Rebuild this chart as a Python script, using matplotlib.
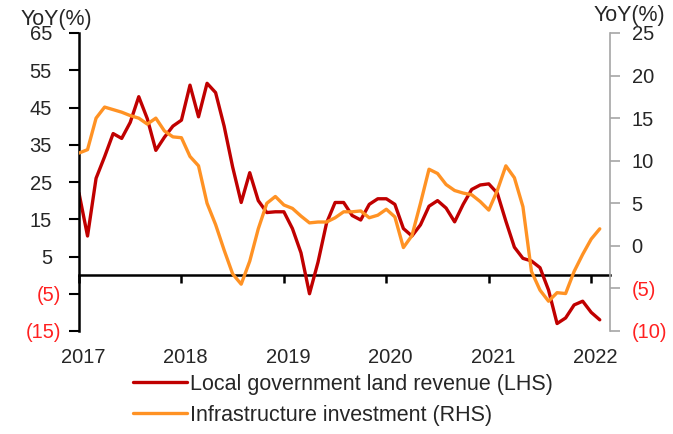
import numpy as np
import matplotlib
matplotlib.use('Agg')
import matplotlib.pyplot as plt
from matplotlib.transforms import ScaledTranslation

plt.rcParams['font.family'] = ['Liberation Sans', 'DejaVu Sans']

# month index from Jan 2017
months = np.arange(62)

land_revenue = [22, 10.5, 26, 31.8, 38, 36.7, 41, 47.9, 42, 33.5,
                37, 40, 41.6, 51, 42.5, 51.5, 49, 40, 29, 19.5,
                27.5, 20, 16.8, 17, 17, 12.5, 6, -5, 3.5, 14,
                19.5, 19.5, 16, 14.8, 19, 20.5, 20.5, 19, 12.5, 10.5,
                13.5, 18.5, 20, 18, 14.3, 19, 23, 24.2, 24.5, 22,
                14.5, 7.5, 4.5, 3.8, 2, -4, -13, -11.5, -8, -7,
                -10, -12]

infra_invest = [10.9, 11.3, 15, 16.3, 16.0, 15.7, 15.3, 15.0, 14.3, 15.0,
                13.5, 12.8, 12.7, 10.5, 9.4, 5, 2.5, -0.5, -3.3, -4.5,
                -1.8, 2, 5, 5.8, 4.8, 4.4, 3.5, 2.7, 2.8, 2.8,
                3.3, 4.0, 4.0, 4.1, 3.3, 3.6, 4.3, 3.4, -0.2, 1.2,
                5, 9.0, 8.5, 7.2, 6.5, 6.2, 6.0, 5.2, 4.2, 6.5,
                9.4, 8.0, 4.6, -3, -5.2, -6.5, -5.5, -5.6, -3, -1,
                0.8, 2.0]

year_ticks = [0, 12, 24, 36, 48, 60]
year_labels = ['2017', '2018', '2019', '2020', '2021', '2022']
left_ticks = [-15, -5, 5, 15, 25, 35, 45, 55, 65]
right_ticks = [-10, -5, 0, 5, 10, 15, 20, 25]

label_lhs = 'Local government land revenue (LHS)'
label_rhs = 'Infrastructure investment (RHS)'

RED = '#C00000'
ORANGE = '#FF9224'
NEG = '#FF2020'
FS = 14.5

fig = plt.figure(figsize=(6.73, 4.34), dpi=100)
ax = fig.add_axes([79 / 673, 1 - 331 / 434, 531 / 673, 298 / 434])
ax2 = ax.twinx()

l1, = ax.plot(months, land_revenue, color=RED, lw=2.4,
              solid_joinstyle='round', solid_capstyle='round')
l2, = ax2.plot(months, infra_invest, color=ORANGE, lw=2.4,
               solid_joinstyle='round', solid_capstyle='round')

ax.set_xlim(0, 62.2)
ax.set_ylim(-15, 65)
ax2.set_ylim(-10, 25)

for s in ['top', 'right', 'bottom']:
    ax.spines[s].set_visible(False)
ax.spines['left'].set_linewidth(1.8)
ax.spines['left'].set_color('black')
for s in ['top', 'left', 'bottom']:
    ax2.spines[s].set_visible(False)
ax2.spines['right'].set_color('#A6A6A6')
ax2.spines['right'].set_linewidth(1.2)

# left axis ticks
ax.set_yticks(left_ticks)
ax.set_yticklabels([f'({-v})' if v < 0 else f'{v}' for v in left_ticks])
ax.tick_params(axis='y', direction='out', length=7, width=1.5, pad=6,
               labelsize=FS, colors='black', labelcolor='#262626')
for v, lbl in zip(left_ticks, ax.get_yticklabels()):
    if v < 0:
        lbl.set_color(NEG)
    else:
        lbl.set_transform(lbl.get_transform() +
                          ScaledTranslation(-9 / 100, 0, fig.dpi_scale_trans))

# right axis ticks
ax2.set_yticks(right_ticks)
ax2.set_yticklabels([f'({-v})' if v < 0 else f'{v}' for v in right_ticks])
ax2.tick_params(axis='y', direction='out', length=7, width=1.2, pad=8.5,
                labelsize=FS, colors='#A6A6A6', labelcolor='#262626')
for v, lbl in zip(right_ticks, ax2.get_yticklabels()):
    if v < 0:
        lbl.set_color(NEG)

# x labels at the bottom
ax.set_xticks(year_ticks)
ax.set_xticklabels(year_labels)
ax.tick_params(axis='x', length=0, pad=12, labelsize=FS, labelcolor='#262626')
for lbl in ax.get_xticklabels():
    lbl.set_transform(lbl.get_transform() +
                      ScaledTranslation(4 / 100, 0, fig.dpi_scale_trans))

# zero line with year tick marks
sec = ax.secondary_xaxis(15 / 80)
sec.set_xticks(year_ticks)
sec.tick_params(axis='x', direction='out', length=6, width=1.8,
                labelbottom=False, labeltop=False, colors='black')
for s in sec.spines.values():
    s.set_linewidth(1.8)
    s.set_color('black')

fig.text(56 / 673, 1 - 20 / 434, 'YoY(%)', ha='center', va='center',
         fontsize=15.5, color='#262626')
fig.text(629 / 673, 1 - 15 / 434, 'YoY(%)', ha='center', va='center',
         fontsize=15.5, color='#262626')

fig.legend([l1, l2], [label_lhs, label_rhs], loc='upper left',
           bbox_to_anchor=(133 / 673, 1 - 374 / 434), frameon=False,
           fontsize=15.5, handlelength=2.5, handletextpad=0.15,
           labelspacing=0.45, borderpad=0, borderaxespad=0,
           labelcolor='#262626')

fig.savefig('out.png', dpi=100)
